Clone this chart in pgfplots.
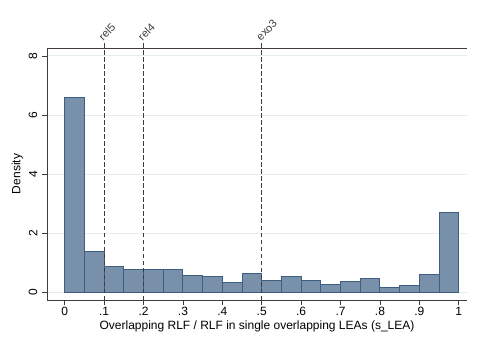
\documentclass[border=0pt]{standalone}
\usepackage{fontspec}
\setmainfont{Liberation Sans}
\usepackage{pgfplots}
\pgfplotsset{compat=1.18}
\definecolor{barfill}{RGB}{120,144,170}
\definecolor{barline}{RGB}{62,94,130}
\definecolor{gridc}{RGB}{228,238,240}
\definecolor{axc}{RGB}{60,60,60}
\begin{document}
\begin{tikzpicture}
\begin{axis}[
  scale only axis,
  width=420pt, height=252pt,
  xmin=-0.045, xmax=1.021,
  ymin=-0.25, ymax=8.27,
  clip=false,
  axis line style={draw=none},
  xtick={0,0.1,0.2,0.3,0.4,0.5,0.6,0.7,0.8,0.9,1},
  xticklabels={0,.1,.2,.3,.4,.5,.6,.7,.8,.9,1},
  ytick={0,2,4,6,8},
  yticklabel style={rotate=90, anchor=south, inner sep=4.5pt, font=\fontsize{12}{14}\selectfont},
  xticklabel style={inner sep=2pt, font=\fontsize{12}{14}\selectfont},
  /pgf/number format/assume math mode=true,
  tick align=outside,
  tick pos=left,
  major tick length=5pt,
  tick style={axc, line width=0.8pt},
  ymajorgrids=true,
  grid style={gridc, line width=1pt},
  xlabel={Overlapping RLF / RLF in single overlapping LEAs (s\_LEA)},
  ylabel={Density},
  label style={font=\fontsize{12}{14}\selectfont},
  xlabel style={yshift=0pt},
  ylabel style={yshift=-2pt},
]
\draw[axc, line width=0.8pt] (rel axis cs:1,1) -- (rel axis cs:0,1) -- (rel axis cs:0,0) -- (rel axis cs:1,0);
\coordinate (sw) at (rel axis cs:0,0);
\coordinate (ne) at (rel axis cs:1,1);
\addplot[ybar interval, fill=barfill, draw=barline, line width=0.9pt] coordinates {
 (0,6.60) (0.05,1.38) (0.10,0.88) (0.15,0.79) (0.20,0.79) (0.25,0.79)
 (0.30,0.57) (0.35,0.53) (0.40,0.33) (0.45,0.66) (0.50,0.42) (0.55,0.53)
 (0.60,0.42) (0.65,0.27) (0.70,0.37) (0.75,0.48) (0.80,0.18) (0.85,0.23)
 (0.90,0.62) (0.95,2.71) (1.00,2.71)
};
\addplot[axc, line width=1pt, dash pattern=on 4.5pt off 2.5pt] coordinates {(0.1,-0.25) (0.1,8.47)}
  node[pos=1, anchor=south west, rotate=45, inner sep=0.5pt, font=\fontsize{11}{12}\selectfont, xshift=-1pt] {rel5};
\addplot[axc, line width=1pt, dash pattern=on 4.5pt off 2.5pt] coordinates {(0.2,-0.25) (0.2,8.47)}
  node[pos=1, anchor=south west, rotate=45, inner sep=0.5pt, font=\fontsize{11}{12}\selectfont, xshift=-1pt] {rel4};
\addplot[axc, line width=1pt, dash pattern=on 4.5pt off 2.5pt] coordinates {(0.5,-0.25) (0.5,8.47)}
  node[pos=1, anchor=south west, rotate=45, inner sep=0.5pt, font=\fontsize{11}{12}\selectfont, xshift=-1pt] {exo3};
\end{axis}
\pgfresetboundingbox
\path ([shift={(-47pt,-48pt)}]sw) rectangle ([shift={(12pt,48pt)}]ne);
\end{tikzpicture}
\end{document}
